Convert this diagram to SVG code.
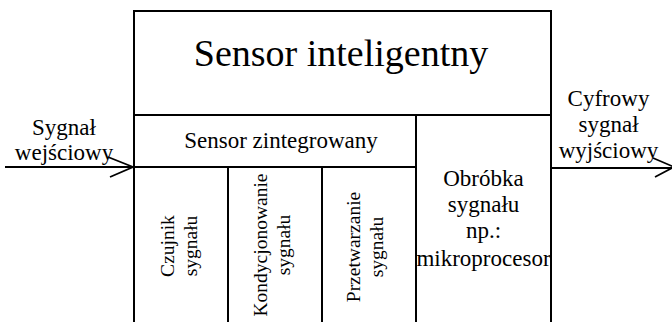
<svg xmlns="http://www.w3.org/2000/svg" width="672" height="322" viewBox="0 0 672 322">
<style>
.box{fill:none;stroke:#000;stroke-width:2}
.ln{fill:none;stroke:#000;stroke-width:2}
.ah{fill:none;stroke:#000;stroke-width:1.8}
text{font-family:"Liberation Serif","Times New Roman",serif;fill:#000}
.t23{font-size:23px;text-anchor:middle}
.t20{font-size:19.5px;text-anchor:middle}
</style>
<rect width="672" height="322" fill="#fff"/>
<g id="sensor-inteligentny">
<path class="box" d="M134,330 V11 H551 V330"/>
<line class="ln" x1="134" y1="115" x2="551" y2="115"/>
<text x="341" y="66" font-size="38" text-anchor="middle">Sensor inteligentny</text>
</g>
<g id="sensor-zintegrowany">
<path class="box" d="M134,167 H416 M416,115 V330"/>
<text class="t23" x="281" y="148">Sensor zintegrowany</text>
</g>
<g id="czujnik">
<line class="ln" x1="228" y1="167" x2="228" y2="330"/>
<text class="t20" transform="translate(174,246) rotate(-90)">Czujnik</text>
<text class="t20" transform="translate(197,246) rotate(-90)">sygnału</text>
</g>
<g id="kondycjonowanie">
<line class="ln" x1="322" y1="167" x2="322" y2="330"/>
<text class="t20" transform="translate(267,245) rotate(-90)">Kondycjonowanie</text>
<text class="t20" transform="translate(290,245) rotate(-90)">sygnału</text>
</g>
<g id="przetwarzanie">
<text class="t20" transform="translate(360,247) rotate(-90)">Przetwarzanie</text>
<text class="t20" transform="translate(383,247) rotate(-90)">sygnału</text>
</g>
<g id="obrobka">
<text class="t23" x="483.5" y="186">Obróbka</text>
<text class="t23" x="483.5" y="212">sygnału</text>
<text class="t23" x="483.5" y="238">np.:</text>
<text class="t23" x="483.5" y="266">mikroprocesor</text>
</g>
<g id="input-label">
<text class="t23" x="64" y="135">Sygnał</text>
<text class="t23" x="64" y="160">wejściowy</text>
</g>
<g id="output-label">
<text class="t23" x="608.5" y="106">Cyfrowy</text>
<text class="t23" x="608.5" y="132">sygnał</text>
<text class="t23" x="608.5" y="158">wyjściowy</text>
</g>
<g id="connectors">
<line class="ln" x1="5" y1="167" x2="133" y2="167"/>
<path class="ah" d="M108,157 L133,167 L110,177"/>
<line class="ln" x1="551" y1="168" x2="672" y2="168"/>
<path class="ah" d="M653,158 L674,167 L655,177"/>
</g>
</svg>
